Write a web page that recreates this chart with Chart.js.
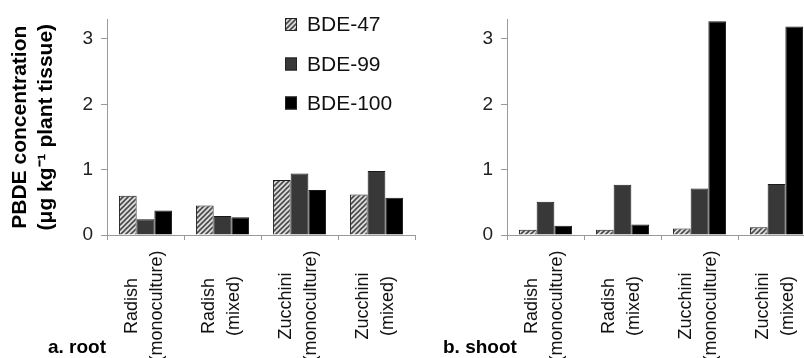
<!DOCTYPE html>
<html>
<head>
<meta charset="utf-8">
<script src="https://cdn.jsdelivr.net/npm/chart.js@4/dist/chart.umd.min.js"></script>
<style>
  html, body { margin: 0; padding: 0; background: #fff; overflow: hidden; width: 804px; height: 358px; }
  canvas { position: absolute; top: 0; }
  #root-chart { left: 0; }
  #shoot-chart { left: 400px; }
</style>
</head>
<body>
<canvas id="root-chart" width="420" height="358"></canvas>
<canvas id="shoot-chart" width="420" height="358"></canvas>
<script>
// PBDE concentrations
const categories = [
    ['Radish', '(monoculture)'],
    ['Radish', '(mixed)'],
    ['Zucchini', '(monoculture)'],
    ['Zucchini', '(mixed)']
];
const seriesNames = ['BDE-47', 'BDE-99', 'BDE-100'];

const rootBDE47 = [0.60, 0.45, 0.84, 0.62];
const rootBDE99 = [0.24, 0.29, 0.94, 0.98];
const rootBDE100 = [0.375, 0.27, 0.69, 0.57];

const shootBDE47 = [0.08, 0.08, 0.10, 0.12];
const shootBDE99 = [0.51, 0.77, 0.71, 0.78];
const shootBDE100 = [0.14, 0.16, 3.27, 3.19];

const yTicks = [0, 1, 2, 3];
const yMax = 3.3;

const FONT = '"Liberation Sans", Arial, sans-serif';
const AXIS_GREY = '#9a9a9a';

// hatched fill for BDE-47
function makeHatch() {
    const c = document.createElement('canvas');
    c.width = 5;
    c.height = 5;
    const g = c.getContext('2d');
    g.fillStyle = '#dcdcdc';
    g.fillRect(0, 0, 5, 5);
    g.strokeStyle = '#4a4a4a';
    g.lineWidth = 1.6;
    g.beginPath();
    g.moveTo(-1, 6); g.lineTo(6, -1);
    g.moveTo(-1, 1); g.lineTo(1, -1);
    g.moveTo(4, 6); g.lineTo(6, 4);
    g.stroke();
    return g.createPattern(c, 'repeat');
}
const hatch = makeHatch();
const fills = [hatch, '#383838', '#000000'];

// category labels, panel caption and (optionally) the legend
function extrasPlugin(caption, captionX, showLegend) {
    return {
        id: 'extras',
        afterDraw(chart) {
            const ctx = chart.ctx;
            const xs = chart.scales.x;
            ctx.save();
            ctx.fillStyle = '#111';
            ctx.font = '18px ' + FONT;
            ctx.textAlign = 'center';
            ctx.textBaseline = 'middle';
            categories.forEach((lines, i) => {
                const x = xs.getPixelForValue(i);
                ctx.save();
                ctx.translate(x, 306);
                ctx.rotate(-Math.PI / 2);
                ctx.fillText(lines[0], 0, -13);
                ctx.fillText(lines[1], 0, 12);
                ctx.restore();
            });

            ctx.font = 'bold 19px ' + FONT;
            ctx.textAlign = 'left';
            ctx.textBaseline = 'alphabetic';
            ctx.fillStyle = '#000';
            ctx.fillText(caption, captionX, 353);

            if (showLegend) {
                ctx.font = '21px ' + FONT;
                ctx.textBaseline = 'middle';
                const rows = [24.5, 64, 103];
                seriesNames.forEach((name, i) => {
                    ctx.fillStyle = fills[i];
                    ctx.fillRect(285, rows[i] - 6.5, 12, 13);
                    ctx.strokeStyle = '#222';
                    ctx.lineWidth = 1;
                    ctx.strokeRect(285.5, rows[i] - 6, 11, 12);
                    ctx.fillStyle = '#111';
                    ctx.fillText(name, 307, rows[i] + 1);
                });
            }
            ctx.restore();
        }
    };
}

function buildChart(id, series, caption, captionX, showLegend, showTitle) {
    const ctx = document.getElementById(id).getContext('2d');
    return new Chart(ctx, {
        type: 'bar',
        data: {
            labels: categories.map(l => l.join(' ')),
            datasets: series.map((values, i) => ({
                label: seriesNames[i],
                data: values,
                backgroundColor: fills[i],
                borderColor: '#1a1a1a',
                borderWidth: 1,
                categoryPercentage: 0.69,
                barPercentage: 1.0
            }))
        },
        options: {
            responsive: false,
            animation: false,
            devicePixelRatio: 1,
            layout: { padding: { top: 9, right: 5, left: 0, bottom: 0 } },
            plugins: {
                legend: { display: false },
                tooltip: { enabled: false }
            },
            scales: {
                x: {
                    grid: {
                        offset: true,
                        drawOnChartArea: false,
                        drawTicks: true,
                        tickLength: 5,
                        color: AXIS_GREY
                    },
                    border: { display: true, color: AXIS_GREY, width: 1 },
                    ticks: { display: false },
                    afterFit: scale => { scale.height = 123; }
                },
                y: {
                    min: 0,
                    max: yMax,
                    afterBuildTicks: scale => {
                        scale.ticks = yTicks.map(v => ({ value: v }));
                    },
                    ticks: {
                        includeBounds: false,
                        padding: 8,
                        color: '#222',
                        font: { family: FONT, size: 19 }
                    },
                    grid: {
                        drawOnChartArea: false,
                        drawTicks: true,
                        tickLength: 6,
                        color: AXIS_GREY
                    },
                    border: { display: true, color: AXIS_GREY, width: 1 },
                    title: {
                        display: showTitle,
                        text: ['PBDE concentration', '(\u03bcg kg\u207b\u00b9 plant tissue)'],
                        color: '#000',
                        padding: { top: 8, bottom: 0 },
                        font: { family: FONT, size: 21, weight: 'bold', lineHeight: 1.2 }
                    },
                    afterFit: scale => { scale.width = 107; }
                }
            }
        },
        plugins: [extrasPlugin(caption, captionX, showLegend)]
    });
}

document.addEventListener('DOMContentLoaded', () => {
    buildChart('root-chart', [rootBDE47, rootBDE99, rootBDE100], 'a. root', 48, true, true);
    buildChart('shoot-chart', [shootBDE47, shootBDE99, shootBDE100], 'b. shoot', 43, false, false);
});
</script>
</body>
</html>
